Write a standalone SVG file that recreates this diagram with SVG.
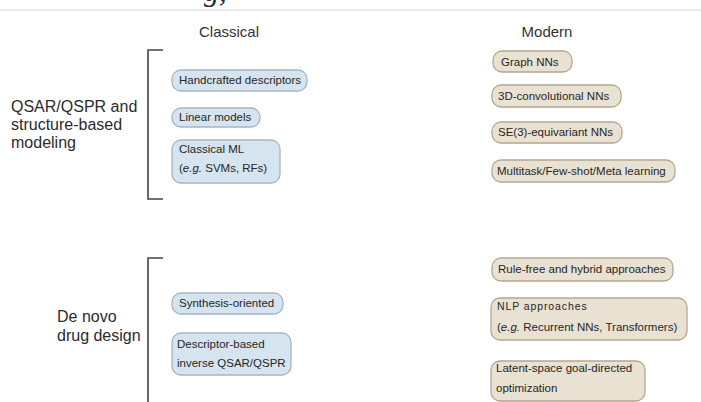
<svg xmlns="http://www.w3.org/2000/svg" width="701" height="402" viewBox="0 0 701 402">
  <style>
    .hdr { font-family: "Liberation Sans", Arial, sans-serif; font-size: 15px; fill: #333; text-anchor: middle; }
    .cat { font-family: "Liberation Sans", Arial, sans-serif; font-size: 16px; fill: #2b2b2b; }
    .lbl { font-family: "Liberation Sans", Arial, sans-serif; font-size: 11.5px; fill: #262626; }
    .small { font-size: 10.5px; letter-spacing: 0.9px; }
    .classic { fill: #d5e4ee; stroke: #a3b6c4; stroke-width: 1.3; }
    .modern { fill: #e9e2d3; stroke: #b3a78f; stroke-width: 1.3; }
    .bracket { fill: none; stroke: #444; stroke-width: 1.6; }
  </style>

  <rect width="701" height="402" fill="#ffffff"/>

  <!-- page-break strip carried over from the previous page -->
  <text x="204" y="1" font-family="Liberation Serif, serif" font-style="italic" font-size="30" fill="#222">g,</text>
  <line x1="0" y1="10" x2="701" y2="10" stroke="#e2e2e2" stroke-width="1.5"/>

  <!-- column headers -->
  <text class="hdr" x="229" y="37">Classical</text>
  <text class="hdr" x="547" y="37">Modern</text>

  <!-- row categories -->
  <g id="cat-qsar">
    <text class="cat" x="11" y="112">QSAR/QSPR and</text>
    <text class="cat" x="11" y="130">structure-based</text>
    <text class="cat" x="11" y="148">modeling</text>
  </g>
  <g id="cat-denovo">
    <text class="cat" x="57" y="322">De novo</text>
    <text class="cat" x="57" y="341">drug design</text>
  </g>

  <!-- grouping brackets -->
  <g id="connectors">
    <path class="bracket" d="M163,50 H148 V199 H163"/>
    <path class="bracket" d="M163,258 H148 V402"/>
  </g>

  <!-- classical methods -->
  <g id="handcrafted">
    <rect class="classic" x="172" y="70" width="135" height="21" rx="9"/>
    <text class="lbl" x="179" y="84">Handcrafted descriptors</text>
  </g>
  <g id="linear">
    <rect class="classic" x="172" y="108" width="88" height="19" rx="9"/>
    <text class="lbl" x="179" y="121">Linear models</text>
  </g>
  <g id="classical-ml">
    <rect class="classic" x="172" y="140" width="108" height="43" rx="9"/>
    <text class="lbl" x="179" y="153">Classical ML</text>
    <text class="lbl" x="179" y="172">(<tspan font-style="italic">e.g.</tspan> SVMs, RFs)</text>
  </g>
  <g id="synthesis">
    <rect class="classic" x="172" y="293" width="111" height="21" rx="9"/>
    <text class="lbl" x="179" y="307">Synthesis-oriented</text>
  </g>
  <g id="inverse-qsar">
    <rect class="classic" x="172" y="333" width="119" height="42" rx="9"/>
    <text class="lbl" x="177" y="348">Descriptor-based</text>
    <text class="lbl" x="177" y="367">inverse QSAR/QSPR</text>
  </g>

  <!-- modern methods -->
  <g id="graph-nn">
    <rect class="modern" x="493" y="51" width="79" height="21" rx="9"/>
    <text class="lbl" x="501" y="66">Graph NNs</text>
  </g>
  <g id="conv3d">
    <rect class="modern" x="492" y="85" width="129" height="22" rx="9"/>
    <text class="lbl" x="498" y="100">3D-convolutional NNs</text>
  </g>
  <g id="se3">
    <rect class="modern" x="492" y="122" width="130" height="21" rx="9"/>
    <text class="lbl" x="498" y="136">SE(3)-equivariant NNs</text>
  </g>
  <g id="multitask">
    <rect class="modern" x="492" y="160" width="183" height="22" rx="9"/>
    <text class="lbl" x="497" y="175">Multitask/Few-shot/Meta learning</text>
  </g>
  <g id="rule-free">
    <rect class="modern" x="492" y="258" width="181" height="23" rx="9"/>
    <text class="lbl" x="498" y="273">Rule-free and hybrid approaches</text>
  </g>
  <g id="nlp">
    <rect class="modern" x="491" y="298" width="196" height="42" rx="9"/>
    <text class="lbl small" x="497" y="310">NLP approaches</text>
    <text class="lbl" x="497" y="331">(<tspan font-style="italic">e.g.</tspan> Recurrent NNs, Transformers)</text>
  </g>
  <g id="latent">
    <rect class="modern" x="491" y="361" width="154" height="40" rx="9"/>
    <text class="lbl" x="496" y="372">Latent-space goal-directed</text>
    <text class="lbl" x="496" y="392">optimization</text>
  </g>
</svg>
